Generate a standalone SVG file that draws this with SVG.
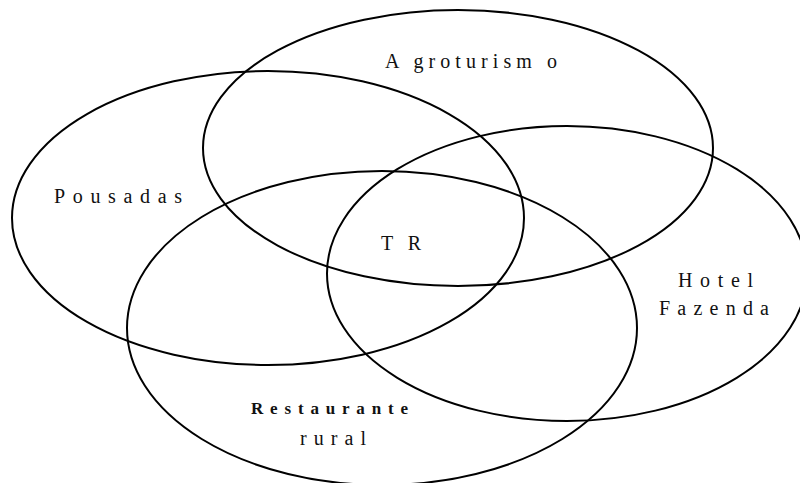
<svg xmlns="http://www.w3.org/2000/svg" width="800" height="483" viewBox="0 0 800 483">
  <style>
    .set { fill: none; stroke: #000; stroke-width: 2; }
    .lbl { font-family: "Liberation Serif", "Times New Roman", serif; font-size: 20px; fill: #111; }
    .bold { font-weight: bold; font-size: 17px; }
  </style>
  <rect width="800" height="483" fill="#fff"/>
  <g id="sets">
    <g id="agroturismo">
      <ellipse class="set" cx="458" cy="148" rx="255" ry="138"/>
      <text class="lbl" x="385" y="68" textLength="172" lengthAdjust="spacing">A groturism o</text>
    </g>
    <g id="pousadas">
      <ellipse class="set" cx="268" cy="218" rx="256" ry="147"/>
      <text class="lbl" x="54" y="203" textLength="128" lengthAdjust="spacing">Pousadas</text>
    </g>
    <g id="hotel-fazenda">
      <ellipse class="set" cx="567" cy="273.5" rx="240" ry="147.5"/>
      <text class="lbl" x="678" y="287" textLength="75" lengthAdjust="spacing">Hotel</text>
      <text class="lbl" x="659" y="315" textLength="110" lengthAdjust="spacing">Fazenda</text>
    </g>
    <g id="restaurante-rural">
      <ellipse class="set" cx="382" cy="328" rx="255" ry="157"/>
      <text class="lbl bold" x="251" y="414" textLength="157" lengthAdjust="spacing">Restaurante</text>
      <text class="lbl" x="300" y="445" textLength="66" lengthAdjust="spacing">rural</text>
    </g>
    <g id="tr">
      <text class="lbl" x="381" y="250" textLength="40" lengthAdjust="spacing">TR</text>
    </g>
  </g>
</svg>
